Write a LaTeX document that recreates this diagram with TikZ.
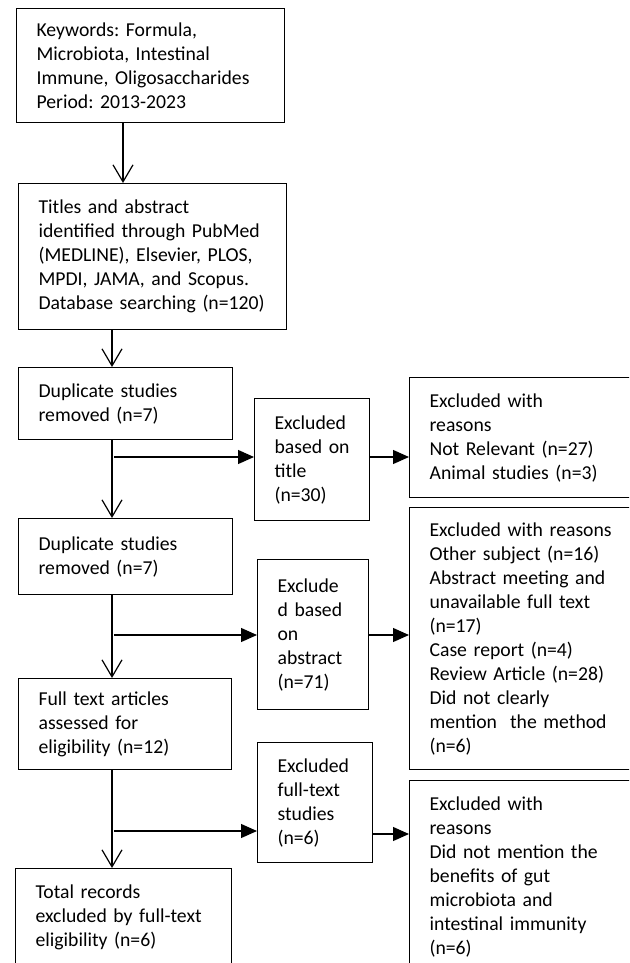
\documentclass[tikz,border=0pt]{standalone}
\usepackage{fontspec}
\setmainfont{Carlito}
\usetikzlibrary{arrows.meta}
\frenchspacing

\begin{document}
\begin{tikzpicture}[x=1pt,y=-1pt,line width=1.2pt,
  box/.style={draw,anchor=north west,align=left,inner xsep=20pt,inner ysep=0pt,
    font=\fontsize{19.7}{24}\selectfont},
  openhead/.style={-{Straight Barb[length=17pt,width=20pt]}},
  solidhead/.style={-{Triangle[length=16pt,width=14pt]}}]
\useasboundingbox (0,0) rectangle (629,963);
\clip (0,0) rectangle (629,963);

% main column
\node[box,text width=228pt,minimum height=114pt] (keywords) at (16,8)
  {Keywords: Formula,\\Microbiota, Intestinal\\Immune, Oligosaccharides\\Period: 2013-2023};
\node[box,text width=228pt,minimum height=146pt] (search) at (18,183)
  {Titles and abstract\\identified through PubMed\\(MEDLINE), Elsevier, PLOS,\\MPDI, JAMA, and Scopus.\\Database searching (n=120)};
\node[box,text width=174pt,minimum height=72pt] (dup1) at (18,367)
  {Duplicate studies\\removed (n=7)};
\node[box,text width=174pt,minimum height=76pt] (dup2) at (18,518)
  {Duplicate studies\\removed (n=7)};
\node[box,text width=173pt,minimum height=91pt] (fulltext) at (18,678)
  {Full text articles\\assessed for\\eligibility (n=12)};
\node[box,text width=176pt,minimum height=98pt] (total) at (15,868)
  {Total records\\excluded by full-text\\eligibility (n=6)};

% excluded boxes
\node[box,text width=75pt,minimum height=122pt] (extitle) at (254,398)
  {Excluded\\based on\\title\\(n=30)};
\node[box,text width=71pt,minimum height=150pt] (exabs) at (257,559)
  {Exclude\\d based\\on\\abstract\\(n=71)};
\node[box,text width=75pt,minimum height=120pt] (exfull) at (257,742)
  {Excluded\\full-text\\studies\\(n=6)};

% reasons
\node[box,text width=200pt,minimum height=120pt] (rtitle) at (409,377)
  {Excluded with\\reasons\\Not Relevant (n=27)\\Animal studies (n=3)};
\node[box,text width=200pt,minimum height=262pt] (rabs) at (409,507)
  {Excluded with reasons\\Other subject (n=16)\\Abstract meeting and\\unavailable full text\\(n=17)\\Case report (n=4)\\Review Article (n=28)\\Did not clearly\\mention\ \ the method\\(n=6)};
\node[box,text width=200pt,minimum height=192pt] (rfull) at (409,780)
  {Excluded with\\reasons\\Did not mention the\\benefits of gut\\microbiota and\\intestinal immunity\\(n=6)};

\coordinate (top) at (123,0);
\coordinate (spine) at (112,0);
\draw[openhead] (keywords.south -| top) -- (search.north -| top);
\draw[openhead] (search.south -| spine) -- (dup1.north -| spine);
\draw[openhead] (dup1.south -| spine) -- (dup2.north -| spine);
\draw[openhead] (dup2.south -| spine) -- (fulltext.north -| spine);
\draw[openhead] (fulltext.south -| spine) -- (total.north -| spine);

\coordinate (br1) at (114,457);
\coordinate (br2) at (114,635);
\coordinate (br3) at (114,831);
\coordinate (br3r) at (0,834);
\draw[solidhead] (br1) -- (br1 -| extitle.west);
\draw[solidhead] (extitle.east |- br1) -- (rtitle.west |- br1);
\draw[solidhead] (br2) -- (br2 -| exabs.west);
\draw[solidhead] (exabs.east |- br2) -- (rabs.west |- br2);
\draw[solidhead] (br3) -- (br3 -| exfull.west);
\draw[solidhead] (exfull.east |- br3r) -- (rfull.west |- br3r);

\end{tikzpicture}
\end{document}
